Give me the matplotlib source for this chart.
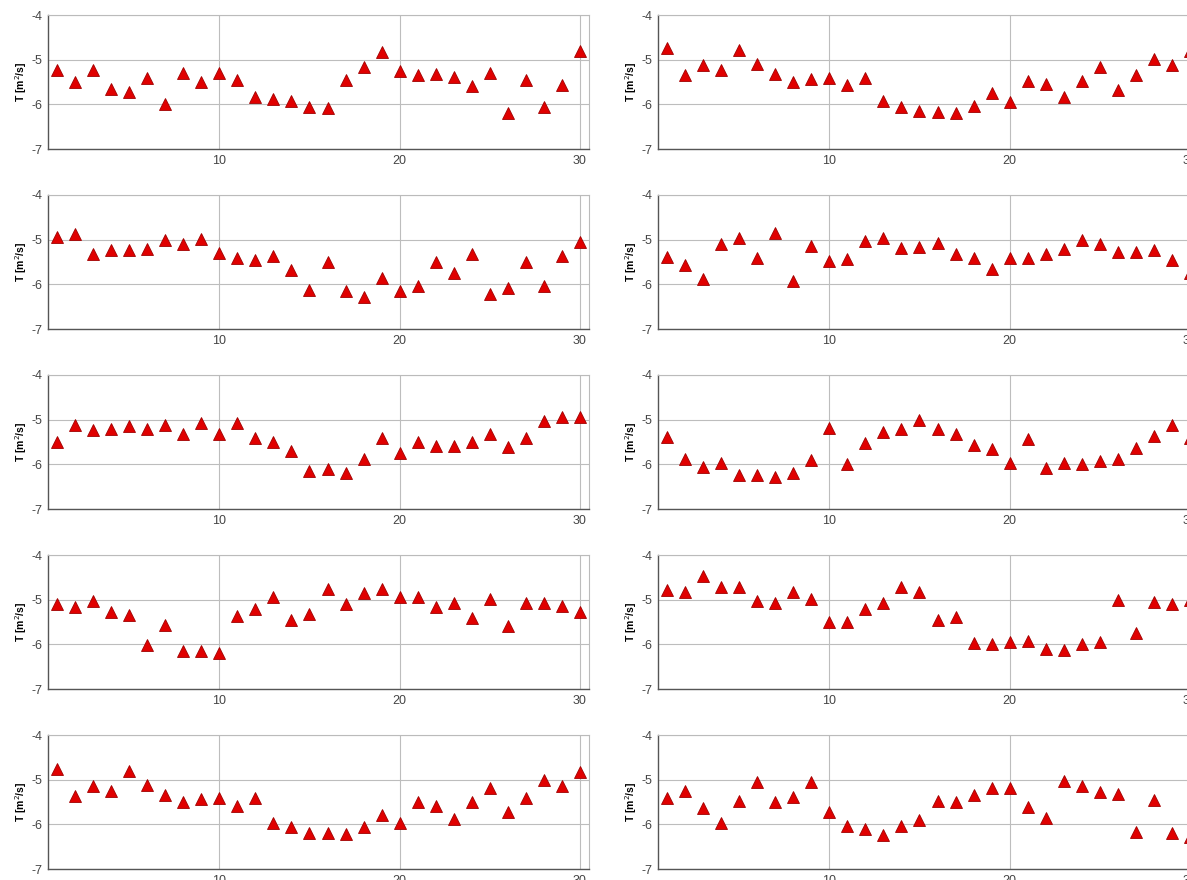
import numpy as np
import matplotlib
matplotlib.use('Agg')
import matplotlib.pyplot as plt

plt.rcParams['font.family'] = ['Liberation Sans', 'DejaVu Sans']

# Sampling index (1..30) shared by all panels
idx = np.arange(1, 31)

# Transmissivity series, log10 T [m2/s], one list per panel
T_a = [-5.23, -5.51, -5.23, -5.66, -5.72, -5.40, -5.99, -5.29, -5.49, -5.29,
       -5.46, -5.84, -5.88, -5.93, -6.05, -6.09, -5.46, -5.16, -4.82, -5.25,
       -5.34, -5.31, -5.38, -5.59, -5.29, -6.20, -5.46, -6.07, -5.57, -4.80]
T_b = [-4.75, -5.34, -5.12, -5.23, -4.78, -5.10, -5.32, -5.49, -5.44, -5.40,
       -5.57, -5.40, -5.93, -6.05, -6.16, -6.18, -6.20, -6.04, -5.75, -5.94,
       -5.47, -5.55, -5.84, -5.48, -5.17, -5.69, -5.34, -4.99, -5.12, -4.81]
T_c = [-4.95, -4.87, -5.31, -5.23, -5.23, -5.21, -5.01, -5.10, -4.99, -5.29,
       -5.40, -5.46, -5.37, -5.69, -6.13, -5.51, -6.16, -6.28, -5.85, -6.14,
       -6.04, -5.49, -5.75, -5.32, -6.22, -6.09, -5.51, -6.04, -5.37, -5.06]
T_d = [-5.38, -5.57, -5.87, -5.10, -4.97, -5.40, -4.86, -5.92, -5.14, -5.47,
       -5.44, -5.04, -4.96, -5.19, -5.16, -5.08, -5.31, -5.42, -5.66, -5.40,
       -5.40, -5.32, -5.22, -5.01, -5.10, -5.27, -5.27, -5.23, -5.46, -5.75]
T_e = [-5.49, -5.13, -5.23, -5.22, -5.14, -5.21, -5.12, -5.32, -5.08, -5.32,
       -5.07, -5.42, -5.51, -5.70, -6.14, -6.11, -6.20, -5.88, -5.42, -5.75,
       -5.49, -5.59, -5.59, -5.51, -5.32, -5.62, -5.40, -5.04, -4.95, -4.93]
T_f = [-5.38, -5.87, -6.07, -5.96, -6.24, -6.24, -6.28, -6.20, -5.90, -5.18,
       -5.99, -5.53, -5.27, -5.21, -5.01, -5.22, -5.31, -5.57, -5.66, -5.96,
       -5.43, -6.09, -5.98, -6.00, -5.92, -5.87, -5.64, -5.37, -5.13, -5.42]
T_g = [-5.10, -5.17, -5.02, -5.27, -5.34, -6.01, -5.57, -6.15, -6.15, -6.19,
       -5.37, -5.21, -4.95, -5.46, -5.32, -4.75, -5.10, -4.84, -4.77, -4.93,
       -4.93, -5.17, -5.08, -5.40, -4.99, -5.60, -5.08, -5.08, -5.14, -5.27]
T_h = [-4.78, -4.82, -4.47, -4.71, -4.71, -5.03, -5.07, -4.82, -4.99, -5.49,
       -5.51, -5.22, -5.08, -4.71, -4.82, -5.46, -5.38, -5.98, -5.99, -5.94,
       -5.92, -6.11, -6.13, -6.00, -5.94, -5.01, -5.74, -5.06, -5.10, -5.01]
T_i = [-4.77, -5.37, -5.15, -5.25, -4.80, -5.13, -5.34, -5.51, -5.44, -5.40,
       -5.59, -5.40, -5.96, -6.07, -6.19, -6.20, -6.22, -6.06, -5.78, -5.96,
       -5.49, -5.59, -5.87, -5.49, -5.19, -5.72, -5.40, -5.01, -5.15, -4.82]
T_j = [-5.42, -5.25, -5.64, -5.96, -5.48, -5.06, -5.51, -5.38, -5.06, -5.72,
       -6.04, -6.11, -6.24, -6.04, -5.90, -5.48, -5.51, -5.34, -5.19, -5.18,
       -5.62, -5.85, -5.04, -5.14, -5.28, -5.33, -6.18, -5.46, -6.19, -6.28]

# panels in reading order: (row, column)
panels = [T_a, T_b, T_c, T_d, T_e, T_f, T_g, T_h, T_i, T_j]

W, H = 1187, 880
fig = plt.figure(figsize=(W / 100, H / 100), dpi=100)

col_left = [48, 658]
ax_w = 541
ax_h = 134

for k, T in enumerate(panels):
    row, col = divmod(k, 2)
    top = 15 + 180 * row
    ax = fig.add_axes([col_left[col] / W, 1 - (top + ax_h) / H, ax_w / W, ax_h / H])
    ax.plot(idx, T, '^', color='#e00000', markeredgecolor='#a00000',
            markeredgewidth=0.6, markersize=8.5, clip_on=False, zorder=3)
    ax.set_xlim(0.5, 30.5)
    ax.set_ylim(-7, -4)
    ax.set_xticks([10, 20, 30])
    ax.set_yticks([-7, -6, -5, -4])
    ax.set_yticklabels(['-7', '-6', '-5', '-4'])
    ax.grid(True, color='#bdbdbd', linewidth=0.8)
    ax.set_axisbelow(True)
    for side in ['left', 'bottom']:
        ax.spines[side].set_color('#555555')
        ax.spines[side].set_linewidth(1.0)
    for side in ['top', 'right']:
        ax.spines[side].set_color('#bbbbbb')
        ax.spines[side].set_linewidth(0.8)
    ax.tick_params(length=0, labelsize=9, colors='#444444', pad=4)
    ax.set_ylabel('T [m$^2$/s]', fontsize=7.5, fontweight='bold', labelpad=2)

fig.savefig('out.png', dpi=100)
